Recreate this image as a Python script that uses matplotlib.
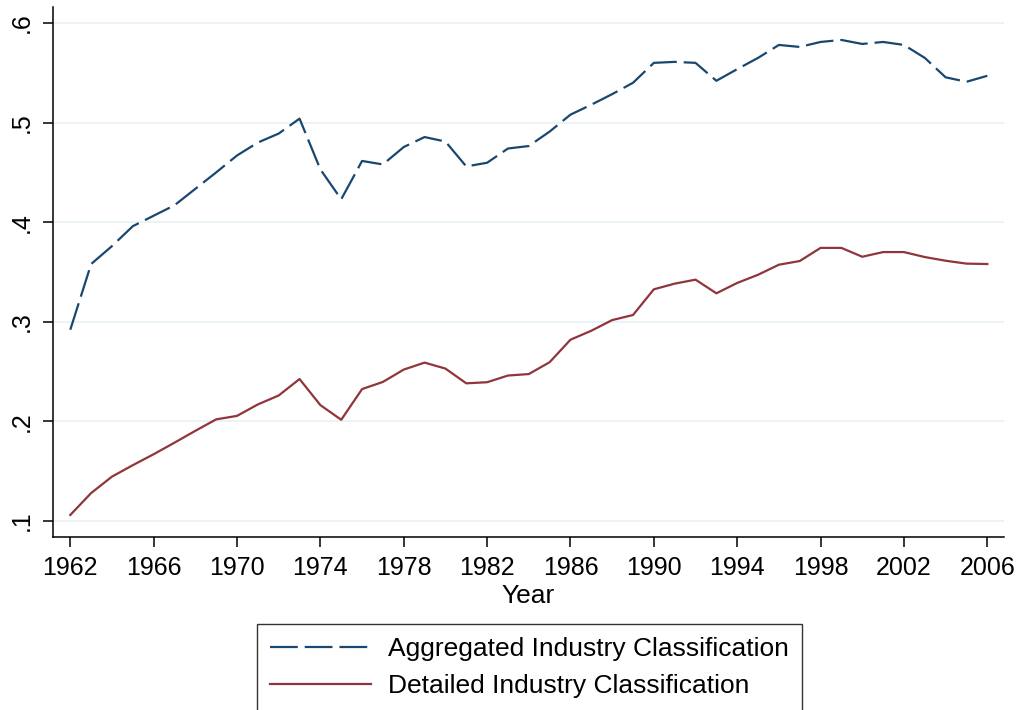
import matplotlib
matplotlib.use("Agg")
import matplotlib.pyplot as plt
import numpy as np

YEARS = np.arange(1962, 2007)

AGGREGATED = [
    0.292, 0.358, 0.376, 0.396, 0.4065, 0.417, 0.4335, 0.450, 0.467, 0.480,
    0.489, 0.504, 0.453, 0.423, 0.4615, 0.458, 0.4755, 0.4855, 0.481, 0.456,
    0.4597, 0.474, 0.4765, 0.491, 0.508, 0.518, 0.5286, 0.540, 0.560, 0.561,
    0.560, 0.542, 0.5537, 0.565, 0.578, 0.576, 0.581, 0.583, 0.579, 0.581,
    0.578, 0.565, 0.5455, 0.541, 0.547,
]

DETAILED = [
    0.106, 0.128, 0.1445, 0.156, 0.167, 0.1786, 0.1905, 0.202, 0.2055, 0.217,
    0.226, 0.2425, 0.2163, 0.2016, 0.2324, 0.2396, 0.252, 0.259, 0.253, 0.2382,
    0.2393, 0.246, 0.2475, 0.2594, 0.282, 0.291, 0.3017, 0.3068, 0.3326, 0.3383,
    0.3423, 0.3286, 0.339, 0.3472, 0.3573, 0.361, 0.3742, 0.3742, 0.3653, 0.370,
    0.370, 0.365, 0.3613, 0.3584, 0.358,
]

SERIES_LABELS = ["Aggregated Industry Classification", "Detailed Industry Classification"]
X_TICKS = list(range(1962, 2007, 4))
Y_TICKS = [0.1, 0.2, 0.3, 0.4, 0.5, 0.6]
Y_TICK_LABELS = [".1", ".2", ".3", ".4", ".5", ".6"]

NAVY = "#1a476f"
MAROON = "#90353b"
GRID = "#eaf2f3"


def main() -> None:
    plt.rcParams["font.family"] = ["Liberation Sans", "DejaVu Sans"]
    plt.rcParams["lines.scale_dashes"] = False

    fig = plt.figure(figsize=(10.23, 7.10), dpi=100)
    ax = fig.add_axes([0.0518, 0.243, 0.9296, 0.747])

    ax.plot(YEARS, AGGREGATED, color=NAVY, linewidth=1.6, dashes=(20, 5),
            label=SERIES_LABELS[0])
    ax.plot(YEARS, DETAILED, color=MAROON, linewidth=1.6, label=SERIES_LABELS[1])

    ax.set_xlim(1961.17, 2006.8)
    ax.set_ylim(0.0834, 0.616)
    ax.set_xticks(X_TICKS)
    ax.set_yticks(Y_TICKS)
    ax.set_yticklabels(Y_TICK_LABELS, rotation=90, va="center")
    ax.tick_params(axis="both", labelsize=18, length=7, width=1.1, direction="out")
    ax.tick_params(axis="x", pad=6)
    ax.tick_params(axis="y", pad=7)

    ax.grid(True, axis="y", color=GRID, linewidth=1.3)
    ax.set_axisbelow(True)
    for side in ("top", "right"):
        ax.spines[side].set_visible(False)
    for side in ("left", "bottom"):
        ax.spines[side].set_linewidth(1.1)

    ax.set_xlabel("Year", fontsize=19, labelpad=3)

    legend = fig.legend(
        loc="upper center", bbox_to_anchor=(0.5176, 0.121), fontsize=19,
        frameon=True, fancybox=False, handlelength=3.8, handletextpad=0.64,
        labelspacing=0.5, borderpad=0.5, borderaxespad=0.0,
    )
    legend.get_frame().set_edgecolor("black")
    legend.get_frame().set_linewidth(1.0)

    fig.savefig("out.png", dpi=100)


if __name__ == "__main__":
    main()
